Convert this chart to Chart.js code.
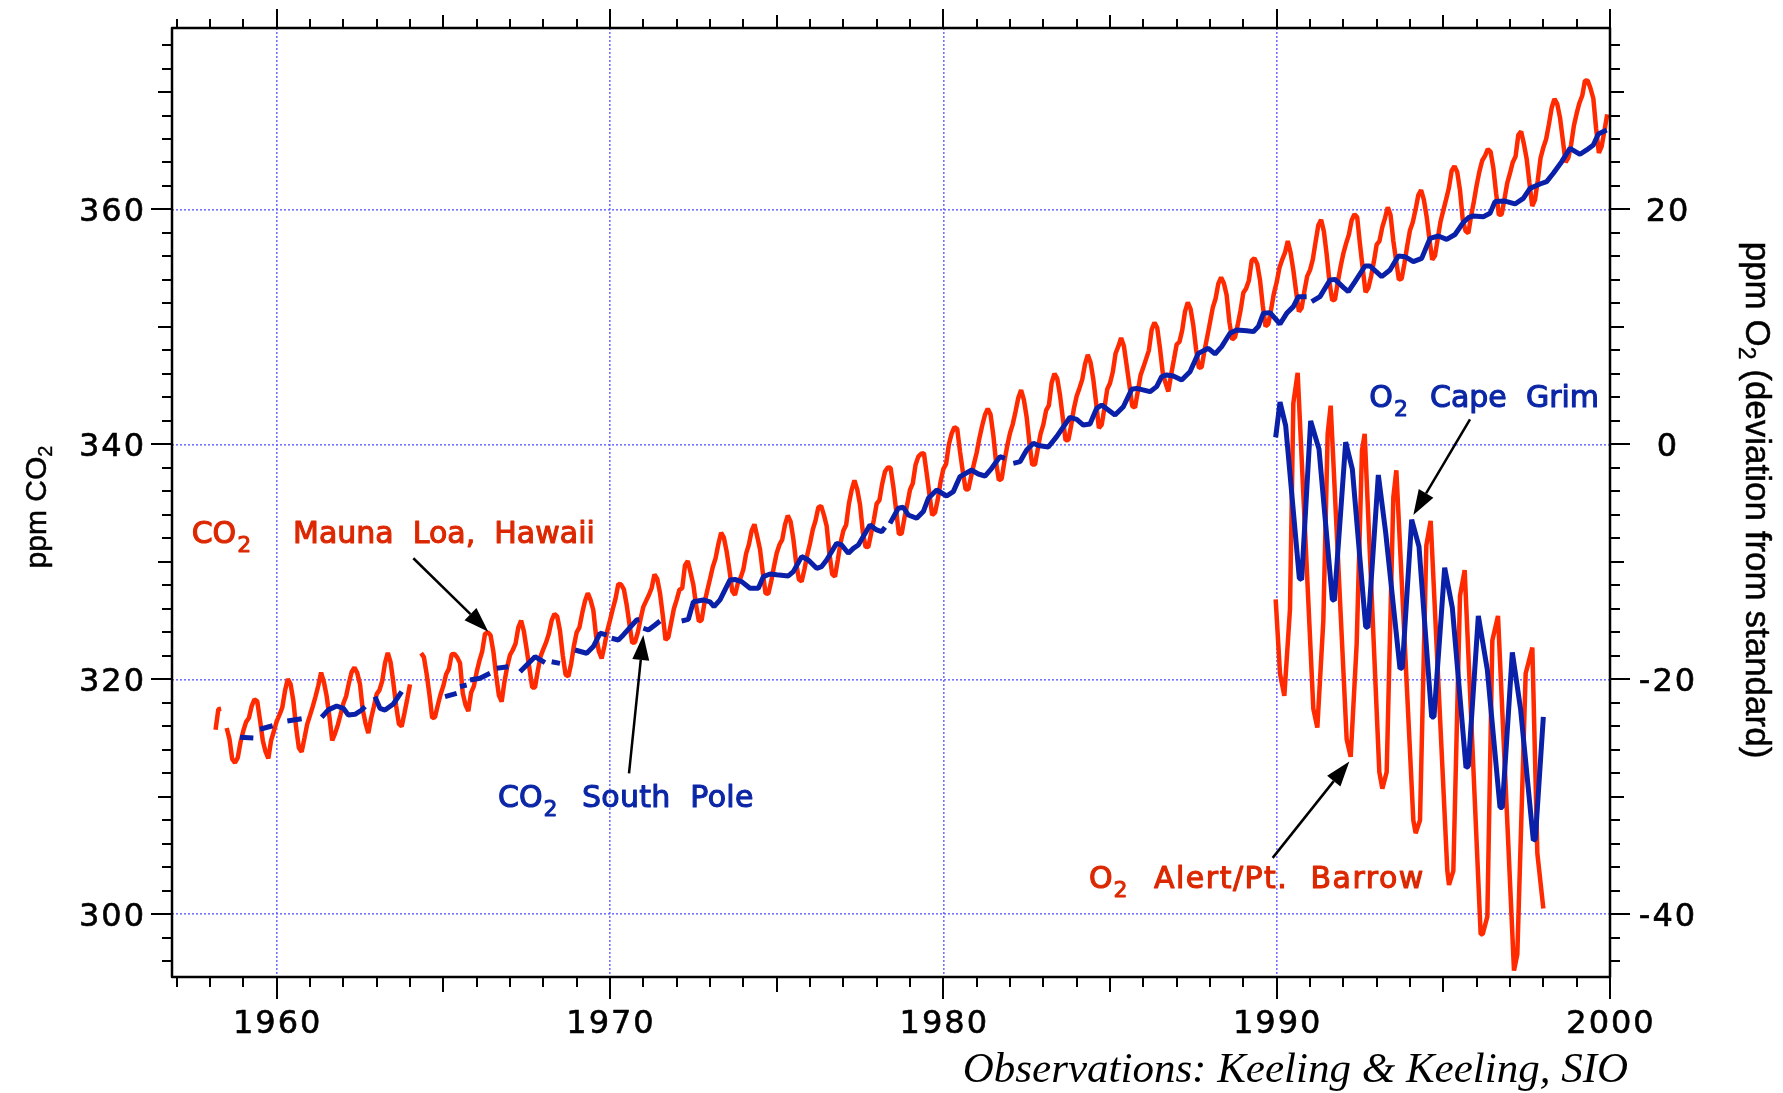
<!DOCTYPE html>
<html><head><meta charset="utf-8">
<script src="https://cdn.jsdelivr.net/npm/chart.js@4.4.1/dist/chart.umd.min.js"></script>
<style>html,body{margin:0;padding:0;background:#fff;}canvas{display:block;}</style>
</head><body>
<canvas id="c" width="1783" height="1093"></canvas>
<script>
// ---------------- data ----------------
// Mauna Loa CO2, monthly means, Jan 1958 .. Dec 1999 (null = no data)
const mloStartYear = 1958;
const mloCO2 = [
 null,null,315.71,317.45,317.50,null,315.86,314.93,313.20,312.90,313.33,314.67,
 315.62,316.38,316.71,317.72,318.29,318.15,316.54,314.80,313.84,313.26,314.80,315.58,
 316.43,316.97,317.58,319.02,320.03,319.59,318.18,315.91,314.16,313.83,315.00,316.19,
 316.93,317.70,318.54,319.48,320.58,319.77,318.57,316.79,314.80,315.38,316.10,317.01,
 317.94,318.56,319.68,320.63,321.01,320.55,319.58,317.40,316.26,315.42,316.69,317.69,
 318.74,319.08,319.86,321.39,322.25,321.47,319.74,317.77,316.21,315.99,317.12,318.31,
 319.57,null,null,null,322.23,321.89,320.44,318.70,316.70,316.79,317.79,318.71,
 319.44,320.44,320.89,322.13,322.16,321.87,321.39,318.81,317.81,317.30,318.87,319.42,
 320.62,321.59,322.39,323.87,324.01,323.75,322.39,320.37,318.64,318.10,319.79,321.08,
 322.07,322.50,323.04,324.42,325.00,324.09,322.55,320.92,319.31,319.31,320.72,321.96,
 322.57,323.15,323.89,325.02,325.57,325.36,324.14,322.03,320.41,320.25,321.31,322.84,
 324.00,324.42,325.64,326.66,327.34,326.76,325.88,323.67,322.38,321.78,322.85,324.11,
 325.03,325.99,326.87,328.13,328.07,327.66,326.35,324.69,323.10,323.16,323.98,325.13,
 326.17,326.68,327.18,327.78,328.92,328.57,327.34,325.46,323.36,323.57,324.80,326.01,
 326.77,327.63,327.75,329.72,330.07,329.09,328.05,326.32,324.93,325.06,326.50,327.55,
 328.54,329.56,330.30,331.50,332.48,332.07,330.87,329.31,327.51,327.18,328.16,328.64,
 329.35,330.71,331.48,332.65,333.20,332.16,331.07,329.12,327.32,327.28,328.30,329.58,
 330.73,331.46,331.90,333.17,333.94,333.45,331.97,329.95,328.50,328.34,329.37,330.58,
 331.59,332.75,333.52,334.64,334.77,334.00,333.06,330.68,328.95,328.75,330.15,331.62,
 332.66,333.13,334.95,336.13,336.93,336.17,334.88,332.56,331.29,331.27,332.41,333.60,
 334.95,335.25,336.66,337.69,338.03,338.01,336.41,334.41,332.37,332.41,333.75,334.90,
 336.14,336.69,338.27,338.96,339.21,339.26,337.54,335.75,333.98,334.19,335.31,336.81,
 337.90,338.34,340.01,340.93,341.48,341.33,339.40,337.70,336.19,336.15,337.27,338.32,
 339.29,340.55,341.61,342.53,343.03,342.54,340.78,338.44,336.95,337.08,338.58,339.88,
 340.96,341.73,342.81,343.97,344.63,343.79,342.32,340.09,338.28,338.29,339.60,340.90,
 341.68,342.90,343.33,345.25,346.03,345.63,344.19,342.27,340.35,340.38,341.59,343.05,
 344.10,344.79,345.52,346.84,347.63,346.98,345.53,343.55,341.40,341.67,343.10,344.70,
 345.21,346.16,347.74,348.34,349.06,348.38,346.72,345.02,343.27,343.13,344.49,345.88,
 346.56,347.28,348.01,349.77,350.38,349.93,348.16,346.08,345.22,344.51,345.93,347.22,
 348.52,348.73,349.73,351.31,352.09,351.53,350.11,348.08,346.52,346.59,347.96,349.16,
 350.39,351.64,352.40,353.69,354.21,353.72,352.69,350.40,348.92,349.13,350.20,351.41,
 352.91,353.27,353.96,355.64,355.86,355.37,353.99,351.81,350.05,350.25,351.49,352.85,
 353.80,355.04,355.73,356.32,357.32,356.34,354.84,353.01,351.31,351.62,353.07,354.33,
 354.84,355.73,357.23,358.66,359.13,358.13,356.19,353.85,352.25,352.35,353.81,355.12,
 356.25,357.11,357.86,359.09,359.59,359.33,357.01,354.94,352.96,353.32,354.32,355.57,
 357.00,357.31,358.47,359.27,360.19,359.52,357.33,355.64,354.03,354.12,355.41,356.91,
 358.24,358.92,359.99,361.23,361.65,360.81,359.38,357.46,355.73,356.07,357.53,358.98,
 359.92,360.86,361.83,363.30,363.69,363.19,361.64,359.12,358.17,357.99,359.45,360.68,
 362.07,363.24,364.17,364.57,365.13,364.92,363.55,361.38,359.54,359.58,360.89,362.24,
 363.09,364.03,364.51,366.35,366.64,365.59,364.31,362.25,360.29,360.82,362.49,364.38,
 365.27,365.98,367.24,368.66,369.42,368.99,367.82,365.95,364.02,364.40,365.52,367.13,
 368.18,369.07,369.68,370.99,370.96,370.30,369.45,366.90,364.81,365.37,366.72,368.10
];

// South Pole CO2, [year, ppm]; null = break in the record
const spoCO2 = [
 [1958.90,315.06],[1959.30,315.00],null,
 [1959.50,315.75],[1959.88,316.05],null,
 [1960.32,316.45],[1960.75,316.65],null,
 [1961.35,316.77],[1961.55,317.40],[1961.80,317.73],[1962.00,317.53],[1962.15,316.97],[1962.35,317.02],[1962.55,317.39],[1962.65,317.68],null,
 [1962.95,318.53],[1963.10,317.53],[1963.25,317.39],[1963.50,317.90],[1963.75,318.95],null,
 [1965.05,318.53],[1965.40,318.81],null,
 [1965.50,319.38],[1965.70,319.52],null,
 [1965.80,319.94],[1966.10,320.09],[1966.40,320.51],null,
 [1966.60,320.94],[1966.95,321.08],null,
 [1967.30,320.65],[1967.60,321.50],[1967.75,321.93],[1968.05,321.42],null,
 [1968.25,321.50],[1968.50,321.36],null,
 [1968.95,322.50],[1969.30,322.22],[1969.50,322.79],[1969.70,323.92],[1969.90,323.78],null,
 [1970.05,323.50],[1970.25,323.35],[1970.40,323.78],[1970.80,325.05],[1970.88,325.10],null,
 [1971.00,324.35],[1971.15,324.20],[1971.35,324.63],[1971.50,324.97],null,
 [1972.15,324.97],[1972.35,325.10],[1972.50,326.60],[1972.80,326.76],[1973.00,326.60],[1973.12,326.19],[1973.30,326.76],[1973.60,328.46],[1973.75,328.50],[1973.95,328.32],
 [1974.20,327.75],[1974.45,327.75],[1974.60,328.74],[1974.80,328.97],[1975.00,328.90],[1975.35,328.80],[1975.50,329.17],[1975.75,330.45],[1975.95,330.16],
 [1976.20,329.45],[1976.35,329.60],[1976.50,330.16],[1976.80,331.58],[1976.95,331.44],[1977.15,330.73],[1977.30,331.15],[1977.45,331.44],[1977.80,333.14],
 [1978.00,332.72],[1978.15,332.57],[1978.25,332.94],null,
 [1978.40,333.28],[1978.65,334.56],[1978.80,334.65],[1978.95,333.99],[1979.20,333.71],[1979.40,334.28],[1979.55,335.41],[1979.80,336.12],[1980.10,335.61],
 [1980.30,335.98],[1980.50,337.26],[1980.85,337.82],[1981.05,337.48],[1981.25,337.31],[1981.45,337.97],[1981.70,338.96],[1981.85,338.82],null,
 [1982.10,338.39],[1982.30,338.53],[1982.50,339.53],[1982.70,340.10],[1982.85,339.90],[1983.15,339.78],[1983.40,340.66],[1983.80,342.31],[1984.00,342.14],
 [1984.20,341.65],[1984.40,341.74],[1984.60,343.07],[1984.75,343.36],[1984.95,342.93],[1985.15,342.50],[1985.40,343.21],[1985.65,344.69],[1985.80,344.77],
 [1986.20,344.49],[1986.40,344.92],[1986.55,345.77],[1986.70,345.91],[1986.90,345.82],[1987.15,345.48],[1987.40,346.19],[1987.65,347.75],[1987.95,348.18],
 [1988.15,347.70],[1988.35,348.32],[1988.60,349.46],[1988.80,349.74],[1989.10,349.68],[1989.30,349.60],[1989.45,350.03],[1989.60,351.16],[1989.80,351.22],
 [1990.10,350.25],[1990.30,351.16],[1990.50,351.73],[1990.65,352.58],[1990.90,352.58],null,
 [1991.05,352.15],[1991.30,352.58],[1991.60,353.99],[1991.75,354.05],[1992.00,353.37],[1992.15,353.00],[1992.35,353.86],[1992.65,355.19],[1992.80,355.19],
 [1993.15,354.28],[1993.40,354.85],[1993.65,356.04],[1993.85,355.98],[1994.10,355.56],[1994.35,355.84],[1994.60,357.54],[1994.85,357.74],[1995.10,357.46],
 [1995.35,357.87],[1995.60,358.90],[1995.75,359.30],[1995.90,359.45],[1996.20,359.39],[1996.40,359.67],[1996.55,360.67],[1996.85,360.72],[1997.15,360.47],
 [1997.40,360.95],[1997.60,361.80],[1997.90,362.17],[1998.10,362.37],[1998.30,363.08],[1998.55,364.07],[1998.80,365.21],[1999.10,364.70],[1999.30,365.07],
 [1999.50,365.49],[1999.65,366.43],[1999.90,366.77]
];

// O2 Alert / Pt. Barrow, [year, ppm deviation]
const brwO2 = [
 [1989.97,-13.2],[1990.10,-19.5],[1990.23,-21.4],[1990.40,-14.0],[1990.50,3.5],[1990.63,6.1],
 [1991.10,-22.5],[1991.22,-24.1],[1991.40,-15.0],[1991.53,0.9],[1991.62,3.3],
 [1992.10,-25.1],[1992.22,-26.6],[1992.40,-17.0],[1992.56,-0.5],[1992.64,0.9],
 [1993.08,-27.9],[1993.17,-29.3],[1993.30,-27.9],[1993.50,-4.5],[1993.59,-2.2],
 [1994.10,-32.0],[1994.17,-33.1],[1994.30,-32.0],[1994.49,-8.6],[1994.62,-6.5],
 [1995.12,-36.3],[1995.17,-37.5],[1995.30,-36.3],[1995.50,-12.9],[1995.64,-10.7],
 [1996.12,-41.7],[1996.18,-41.7],[1996.32,-40.2],[1996.47,-16.7],[1996.64,-14.6],
 [1997.12,-44.8],[1997.22,-43.4],[1997.47,-19.5],[1997.67,-17.3],[1997.82,-34.8],[1998.00,-39.5]
];

// O2 Cape Grim, [year, ppm deviation]
const cgoO2 = [
 [1989.97,0.6],[1990.10,3.6],[1990.27,1.6],[1990.68,-11.4],[1990.75,-11.5],
 [1991.02,2.0],[1991.27,-0.4],[1991.67,-13.2],[1991.73,-13.3],
 [1992.07,0.2],[1992.27,-2.1],[1992.67,-15.5],[1992.74,-15.6],
 [1993.05,-2.6],[1993.27,-7.5],[1993.70,-19.1],[1993.77,-19.0],
 [1994.05,-6.4],[1994.27,-8.7],[1994.65,-23.2],[1994.72,-23.2],
 [1995.04,-10.5],[1995.27,-13.9],[1995.68,-27.5],[1995.75,-27.4],
 [1996.05,-14.6],[1996.32,-19.2],[1996.70,-30.9],[1996.77,-30.9],
 [1997.07,-17.7],[1997.32,-22.6],[1997.70,-33.7],[1997.76,-33.6],[1998.00,-23.2]
];

// tick labels
const yearTicks = [1960, 1970, 1980, 1990, 2000];
const co2Ticks = [300, 320, 340, 360];
const o2Ticks = [-40, -20, 0, 20];

// ---------------- building ----------------
const RED = '#ff2a00', BLUE = '#0a20a8';
const RED_TXT = '#dc2800', BLUE_TXT = '#0b26a6';
const GRID = 'rgba(100,100,255,0.9)';

const mloPts = mloCO2.map((v, i) => ({x: mloStartYear + i / 12, y: v}));
function pairPts(arr) {
  const out = []; let lastX = 0;
  arr.forEach(p => {
    if (p === null) out.push({x: lastX + 0.01, y: null});
    else { out.push({x: p[0], y: p[1]}); lastX = p[0]; }
  });
  return out;
}

const lineDs = (label, data, axis, color, w) => ({
  label, data, yAxisID: axis, borderColor: color, borderWidth: w,
  pointRadius: 0, tension: 0, spanGaps: false, fill: false,
  borderJoinStyle: 'bevel', borderCapStyle: 'butt'
});

const labels = [
  {axis: 'y',  x: 1957.45, y: 331.64, main: 'CO', sub: '2', x2: 1960.49, rest: 'Mauna  Loa,  Hawaii', color: RED_TXT, ls: 0},
  {axis: 'y',  x: 1966.64, y: 309.14, main: 'CO', sub: '2', x2: 1969.16, rest: 'South  Pole', color: BLUE_TXT, ls: 0.3},
  {axis: 'y2', x: 1992.78, y: 3.21,   main: 'O',  sub: '2', x2: 1994.60, rest: 'Cape  Grim', color: BLUE_TXT, ls: 0},
  {axis: 'y2', x: 1984.37, y: -37.76, main: 'O',  sub: '2', x2: 1986.32, rest: 'Alert/Pt.  Barrow', color: RED_TXT, ls: 1.5}
];
const arrows = [
  {axis: 'y',  x1: 1964.10, y1: 330.31, x2: 1966.35, y2: 324.06},
  {axis: 'y',  x1: 1970.57, y1: 312.00, x2: 1971.00, y2: 323.78},
  {axis: 'y2', x1: 1995.80, y1: 2.14,   x2: 1994.10, y2: -6.00},
  {axis: 'y2', x1: 1989.88, y1: -35.20, x2: 1992.18, y2: -27.00}
];

const TICKFONT = '32px "DejaVu Sans", sans-serif';
const ANNFONT = '30px "DejaVu Sans", sans-serif';
const SUBFONT = '22px "DejaVu Sans", sans-serif';

function boldText(ctx, s, x, y, sw) {
  ctx.fillText(s, x, y);
  ctx.lineWidth = sw;
  ctx.strokeText(s, x, y);
}

const decor = {
  id: 'decor',
  afterDraw(chart) {
    const {ctx, chartArea: a} = chart;
    const sx = chart.scales.x, sy = chart.scales.y, s2 = chart.scales.y2;
    const hasLS = 'letterSpacing' in ctx;
    ctx.save();
    ctx.strokeStyle = '#000';
    ctx.fillStyle = '#000';
    ctx.lineCap = 'butt';
    ctx.lineJoin = 'round';
    // tick marks
    ctx.lineWidth = 2;
    ctx.beginPath();
    for (let yr = 1957; yr <= 2000; yr++) {
      const px = Math.round(sx.getPixelForValue(yr));
      const lb = yr % 10 === 0 ? 22 : (yr % 5 === 0 ? 15 : 10);
      const lt = yr % 10 === 0 ? 19 : (yr % 5 === 0 ? 13 : 9);
      ctx.moveTo(px, a.bottom); ctx.lineTo(px, a.bottom + lb);
      ctx.moveTo(px, a.top); ctx.lineTo(px, a.top - lt);
    }
    for (let v = 296; v <= 374; v += 2) {
      const py = Math.round(sy.getPixelForValue(v));
      const l = v % 20 === 0 ? 21 : (v % 10 === 0 ? 14 : 10);
      ctx.moveTo(a.left - l, py); ctx.lineTo(a.left, py);
    }
    for (let v = -44; v <= 34; v += 2) {
      const py = Math.round(s2.getPixelForValue(v));
      const l = v % 20 === 0 ? 20 : (v % 10 === 0 ? 14 : 10);
      ctx.moveTo(a.right, py); ctx.lineTo(a.right + l, py);
    }
    ctx.stroke();
    // frame
    ctx.lineWidth = 2.5;
    ctx.strokeRect(a.left, a.top, a.right - a.left, a.bottom - a.top);

    // tick labels
    ctx.font = TICKFONT;
    if (hasLS) ctx.letterSpacing = '2px';
    ctx.textBaseline = 'alphabetic';
    ctx.textAlign = 'center';
    sx.ticks.forEach(t => boldText(ctx, String(t.value), sx.getPixelForValue(t.value) + 1, a.bottom + 56, 0.6));
    ctx.textAlign = 'right';
    sy.ticks.forEach(t => boldText(ctx, String(t.value), a.left - 26, sy.getPixelForValue(t.value) + 11.7, 0.6));
    ctx.textAlign = 'center';
    s2.ticks.forEach(t => boldText(ctx, String(t.value), a.right + 58, s2.getPixelForValue(t.value) + 11.7, 0.6));
    if (hasLS) ctx.letterSpacing = '0px';

    // axis titles
    ctx.save();
    ctx.translate(46, 507);
    ctx.rotate(-Math.PI / 2);
    ctx.textAlign = 'left';
    ctx.font = '30px "Liberation Sans", sans-serif';
    const w1 = ctx.measureText('ppm CO').width;
    ctx.font = '20px "Liberation Sans", sans-serif';
    const w2 = ctx.measureText('2').width;
    ctx.font = '30px "Liberation Sans", sans-serif';
    boldText(ctx, 'ppm CO', -(w1 + w2) / 2, 0, 0.5);
    ctx.font = '20px "Liberation Sans", sans-serif';
    boldText(ctx, '2', -(w1 + w2) / 2 + w1, 6, 0.4);
    ctx.restore();

    ctx.save();
    ctx.translate(1746, 500);
    ctx.rotate(Math.PI / 2);
    ctx.textAlign = 'left';
    ctx.font = '35px "Liberation Sans", sans-serif';
    const ra = ctx.measureText('ppm O').width;
    const rc = ctx.measureText(' (deviation from standard)').width;
    ctx.font = '23px "Liberation Sans", sans-serif';
    const rb = ctx.measureText('2').width;
    const x0 = -(ra + rb + rc) / 2;
    ctx.font = '35px "Liberation Sans", sans-serif';
    boldText(ctx, 'ppm O', x0, 0, 0.5);
    boldText(ctx, ' (deviation from standard)', x0 + ra + rb, 0, 0.5);
    ctx.font = '23px "Liberation Sans", sans-serif';
    boldText(ctx, '2', x0 + ra, 7, 0.4);
    ctx.restore();

    // arrows
    ctx.lineWidth = 2.5;
    arrows.forEach(ar => {
      const ys = chart.scales[ar.axis];
      const X1 = sx.getPixelForValue(ar.x1), Y1 = ys.getPixelForValue(ar.y1);
      const X2 = sx.getPixelForValue(ar.x2), Y2 = ys.getPixelForValue(ar.y2);
      const ang = Math.atan2(Y2 - Y1, X2 - X1);
      const L = 25, H = 8.5;
      const bx = X2 - L * Math.cos(ang), by = Y2 - L * Math.sin(ang);
      ctx.beginPath(); ctx.moveTo(X1, Y1); ctx.lineTo(bx, by); ctx.stroke();
      ctx.beginPath();
      ctx.moveTo(X2, Y2);
      ctx.lineTo(bx + H * Math.sin(ang), by - H * Math.cos(ang));
      ctx.lineTo(bx - H * Math.sin(ang), by + H * Math.cos(ang));
      ctx.closePath(); ctx.fill();
    });

    // annotation labels
    ctx.textAlign = 'left';
    ctx.textBaseline = 'alphabetic';
    labels.forEach(lb => {
      const ys = chart.scales[lb.axis];
      const X = sx.getPixelForValue(lb.x), Y = ys.getPixelForValue(lb.y);
      ctx.fillStyle = lb.color;
      ctx.strokeStyle = lb.color;
      ctx.font = ANNFONT;
      if (hasLS) ctx.letterSpacing = '0px';
      boldText(ctx, lb.main, X, Y, 1.1);
      const wm = ctx.measureText(lb.main).width;
      if (hasLS) ctx.letterSpacing = lb.ls + 'px';
      boldText(ctx, lb.rest, sx.getPixelForValue(lb.x2), Y, 1.1);
      if (hasLS) ctx.letterSpacing = '0px';
      ctx.font = SUBFONT;
      boldText(ctx, lb.sub, X + wm + 1, Y + 9, 0.9);
    });

    // credit
    ctx.fillStyle = '#000';
    ctx.font = 'italic 43px "Liberation Serif", serif';
    ctx.textAlign = 'right';
    ctx.fillText('Observations: Keeling & Keeling, SIO', 1628, 1082);
    ctx.restore();
  }
};

new Chart(document.getElementById('c'), {
  type: 'line',
  data: {
    datasets: [
      lineDs('CO2 South Pole', pairPts(spoCO2), 'y', BLUE, 5),
      lineDs('CO2 Mauna Loa, Hawaii', mloPts, 'y', RED, 4.5),
      lineDs('O2 Cape Grim', pairPts(cgoO2), 'y2', BLUE, 5),
      lineDs('O2 Alert/Pt. Barrow', pairPts(brwO2), 'y2', RED, 4.5)
    ]
  },
  options: {
    responsive: false, animation: false, devicePixelRatio: 1, events: [],
    layout: {padding: {top: 28, left: 0, right: 0, bottom: 0}},
    plugins: {legend: {display: false}, tooltip: {enabled: false}, title: {display: false}},
    scales: {
      x: {
        type: 'linear', position: 'bottom', min: 1956.86, max: 2000,
        afterBuildTicks: s => { s.ticks = yearTicks.map(v => ({value: v})); },
        afterFit: s => { s.height = 116; },
        ticks: {display: false},
        grid: {color: GRID, lineWidth: 1.6, drawTicks: false},
        border: {display: false, dash: [2, 2]}
      },
      y: {
        type: 'linear', position: 'left', min: 294.66, max: 375.45,
        afterBuildTicks: s => { s.ticks = co2Ticks.map(v => ({value: v})); },
        afterFit: s => { s.width = 172; },
        ticks: {display: false},
        grid: {color: GRID, lineWidth: 1.6, drawTicks: false},
        border: {display: false, dash: [2, 2]}
      },
      y2: {
        type: 'linear', position: 'right', min: -45.34, max: 35.45,
        afterBuildTicks: s => { s.ticks = o2Ticks.map(v => ({value: v})); },
        afterFit: s => { s.width = 173; },
        ticks: {display: false},
        grid: {drawOnChartArea: false, drawTicks: false},
        border: {display: false}
      }
    }
  },
  plugins: [decor]
});
</script>
</body></html>
